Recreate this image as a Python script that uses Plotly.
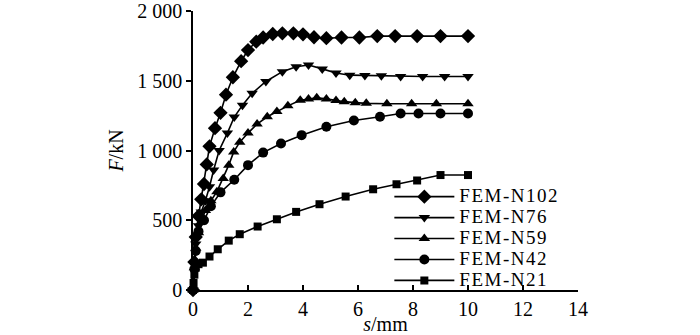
import plotly.graph_objects as go

# ---- data ----
s_n102 = [0, 0.05, 0.1, 0.2, 0.3, 0.4, 0.5, 0.6, 0.8, 1.0, 1.2, 1.45, 1.75, 2.0, 2.3, 2.55, 2.9, 3.25, 3.65, 4.0, 4.4, 4.85, 5.4, 6.05, 6.7, 7.35, 8.15, 9.0, 10.0]
f_n102 = [0, 200, 380, 530, 650, 760, 900, 1030, 1160, 1270, 1400, 1525, 1640, 1720, 1780, 1810, 1835, 1840, 1840, 1833, 1812, 1805, 1810, 1810, 1820, 1820, 1820, 1820, 1820]

s_n76 = [0, 0.05, 0.1, 0.2, 0.3, 0.45, 0.6, 0.75, 0.95, 1.25, 1.5, 1.8, 2.15, 2.65, 3.25, 3.75, 4.2, 4.7, 5.2, 5.7, 6.25, 6.85, 7.55, 8.35, 9.15, 10.0]
f_n76 = [0, 180, 330, 460, 560, 640, 740, 860, 1000, 1125, 1240, 1325, 1410, 1495, 1565, 1600, 1613, 1585, 1555, 1540, 1538, 1535, 1530, 1530, 1530, 1530]

s_n59 = [0, 0.05, 0.1, 0.2, 0.3, 0.45, 0.65, 0.87, 1.1, 1.3, 1.48, 1.7, 2.0, 2.33, 2.7, 3.05, 3.45, 3.9, 4.2, 4.5, 4.85, 5.2, 5.5, 5.9, 6.3, 7.05, 7.95, 8.85, 10.0]
f_n59 = [0, 160, 300, 410, 490, 570, 640, 705, 800, 895, 990, 1060, 1125, 1190, 1242, 1280, 1320, 1360, 1370, 1378, 1370, 1358, 1350, 1343, 1338, 1335, 1335, 1335, 1335]

s_n42 = [0, 0.05, 0.1, 0.2, 0.4, 0.65, 1.0, 1.5, 2.0, 2.55, 3.2, 3.95, 4.85, 5.85, 6.8, 7.55, 8.2, 9.0, 10.0]
f_n42 = [0, 150, 280, 420, 500, 600, 700, 790, 895, 985, 1050, 1110, 1170, 1215, 1242, 1265, 1265, 1265, 1265]

s_n21 = [0, 0.02, 0.05, 0.1, 0.2, 0.36, 0.6, 0.9, 1.3, 1.7, 2.35, 3.05, 3.75, 4.6, 5.55, 6.55, 7.4, 8.15, 9.0, 10.0]
f_n21 = [0, 50, 110, 160, 185, 196, 240, 292, 354, 400, 455, 507, 560, 615, 670, 722, 758, 785, 824, 824]

series_names = ["FEM-N102", "FEM-N76", "FEM-N59", "FEM-N42", "FEM-N21"]
x_ticks = [0, 2, 4, 6, 8, 10, 12, 14]
y_ticks = [0, 500, 1000, 1500, 2000]
y_tick_labels = ["0", "500", "1 000", "1 500", "2 000"]

FONT = "Liberation Serif, Times New Roman, serif"

series = [
    (s_n102, f_n102, "diamond", 11),
    (s_n76, f_n76, "triangle-down", 10),
    (s_n59, f_n59, "triangle-up", 10),
    (s_n42, f_n42, "circle", 10),
    (s_n21, f_n21, "square", 8),
]

fig = go.Figure()
for name, (xs, ys, sym, sz) in zip(series_names, series):
    fig.add_trace(go.Scatter(
        x=xs, y=ys,
        name=f"<span style='font-size:19px;letter-spacing:1.5px'>{name}</span>",
        mode="lines+markers",
        line=dict(color="black", width=1.6),
        marker=dict(symbol=sym, size=sz, color="black"),
        cliponaxis=False,
    ))

fig.update_layout(
    width=700, height=335,
    margin=dict(l=193, r=122, t=11, b=45, autoexpand=False),
    paper_bgcolor="white", plot_bgcolor="white",
    font=dict(family=FONT, size=20, color="black"),
    showlegend=True,
    legend=dict(
        x=0.51, y=0.39, xanchor="left", yanchor="top",
        bgcolor="rgba(0,0,0,0)", borderwidth=0,
        font=dict(family=FONT, size=13.8, color="black"),
        tracegroupgap=0, itemwidth=60,
    ),
    xaxis=dict(
        range=[0, 14], tickvals=x_ticks, ticks="inside", ticklen=5,
        tickcolor="black", tickwidth=1.5,
        showline=True, linecolor="black", linewidth=1.5,
        showgrid=False, zeroline=False, automargin=False,
        tickfont=dict(family=FONT, size=20),
        title=dict(text="<i>s</i>/mm", font=dict(family=FONT, size=20), standoff=0),
    ),
    yaxis=dict(
        range=[0, 2000], tickvals=y_ticks, ticktext=y_tick_labels,
        ticks="outside", ticklen=5, tickcolor="black", tickwidth=1.5,
        showline=True, linecolor="black", linewidth=1.5,
        showgrid=False, zeroline=False, automargin=False,
        tickfont=dict(family=FONT, size=20),
        title=dict(text="<i>F</i>/kN", font=dict(family=FONT, size=20), standoff=8),
    ),
)

fig.write_html("out.html")
